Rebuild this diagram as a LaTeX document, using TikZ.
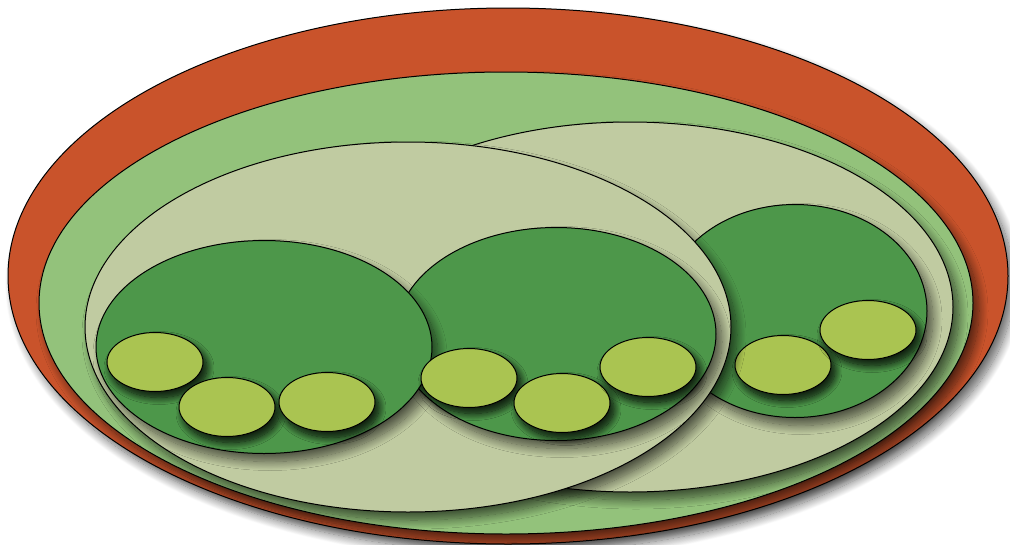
\documentclass[tikz,border=0pt]{standalone}
\usepackage{xcolor}
\usepackage{tikz}
\usetikzlibrary{positioning, shapes.geometric, shadows.blur}
\definecolor{trayred}{HTML}{C9532B}
\definecolor{bedgreen}{HTML}{93C27B}
\definecolor{patchpale}{HTML}{C0CBA1}
\definecolor{clumpgreen}{HTML}{4D974A}
\definecolor{seedyellow}{HTML}{AAC451}

\begin{document}
\begin{tikzpicture}[
    x=1pt, y=-1pt,
    blob/.style={ellipse, draw, line width=1pt, inner sep=0pt,
                 blur shadow={shadow xshift=6pt, shadow yshift=-8pt,
                              shadow blur radius=9pt, shadow blur steps=16,
                              shadow opacity=60}},
    tray/.style={blob, fill=trayred},
    bed/.style={blob, fill=bedgreen},
    patch/.style={blob, fill=patchpale, minimum width=646pt, minimum height=370pt},
    clump/.style={blob, fill=clumpgreen, minimum height=213pt},
    seed/.style={blob, fill=seedyellow, minimum width=96pt, minimum height=59pt,
                 blur shadow={shadow xshift=4pt, shadow yshift=-6pt,
                              shadow blur radius=7pt, shadow blur steps=12,
                              shadow opacity=55}},
]
\useasboundingbox (0,0) rectangle (1010,544);

\node[tray, minimum width=1000pt, minimum height=536pt] (tray) at (508,276) {};
\node[bed, minimum width=934pt, minimum height=462pt] (bed) at (506,303) {};

\node[patch] (patchR) at (630,307) {};
\node[clump, minimum width=264pt] (clumpR) at (795,311) {};
\node[seed] (seedR1) at (783,365) {};
\node[seed] (seedR2) at (868,330) {};

\node[patch] (patchL) at (408,327) {};
\node[clump, minimum width=320pt] (clumpM) at (556,334) {};
\node[clump, minimum width=336pt] (clumpL) at (264,347) {};

\node[seed] (seedL1) at (155,362) {};
\node[seed] (seedL2) at (227,407) {};
\node[seed] (seedL3) at (327,402) {};
\node[seed] (seedM1) at (469,378) {};
\node[seed] (seedM2) at (562,403) {};
\node[seed] (seedM3) at (648,367) {};
\end{tikzpicture}
\end{document}
